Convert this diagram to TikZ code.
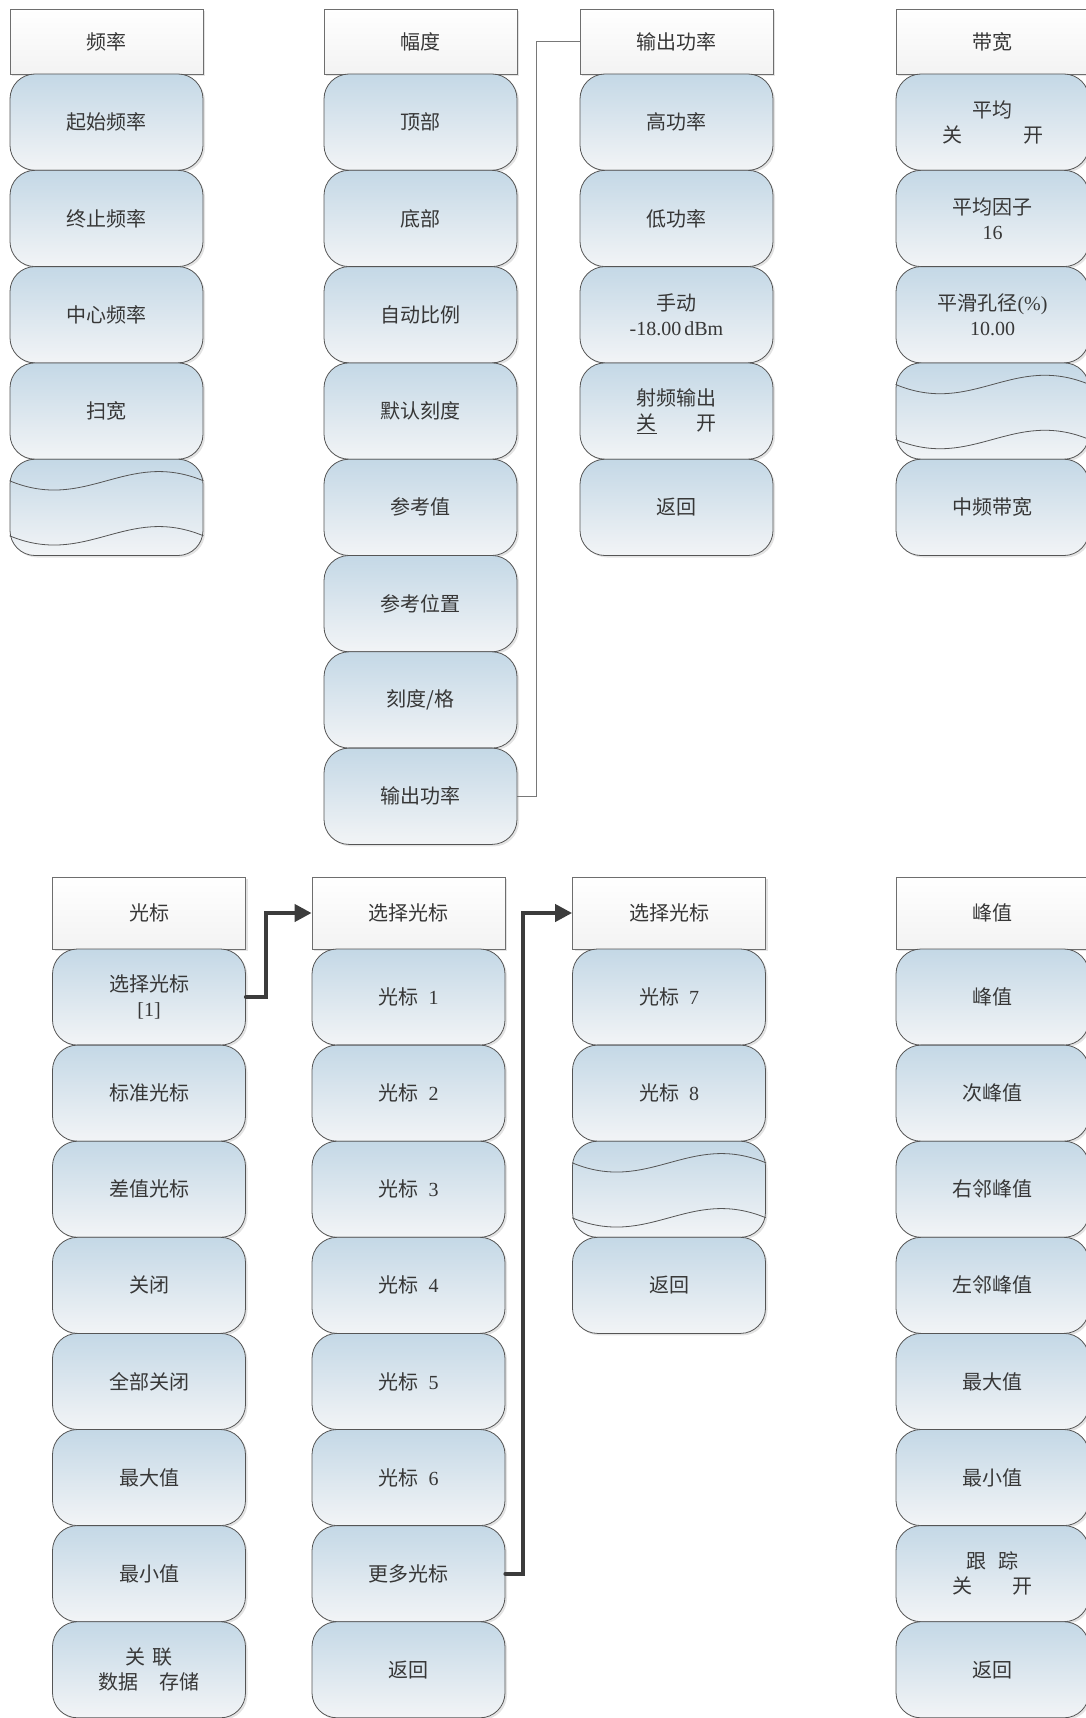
\documentclass[tikz,border=0pt]{standalone}
\usepackage{fontspec}
\setmainfont{Noto Sans CJK SC}
\newfontfamily\latfont{Liberation Serif}
\usetikzlibrary{arrows.meta,shadows}
\definecolor{btop}{RGB}{196,216,230}
\definecolor{bbot}{RGB}{242,244,246}
\definecolor{bedge}{RGB}{85,85,85}
\definecolor{hedge}{RGB}{110,110,110}
\definecolor{htop}{RGB}{255,255,255}
\definecolor{hbot}{RGB}{243,243,243}
\definecolor{txt}{RGB}{55,55,55}
\definecolor{arr}{RGB}{60,60,60}
\definecolor{thin}{RGB}{120,120,120}
\tikzset{
  btn/.style={rectangle, rounded corners=25pt, draw=bedge, line width=0.8pt,
    top color=btop, bottom color=bbot, minimum width=193pt, minimum height=96.3pt,
    align=center, text=txt, font=\fontsize{20}{25}\selectfont, inner sep=0pt,
    drop shadow={shadow xshift=2pt,shadow yshift=-2pt,opacity=0.22}},
  btnb/.style={btn, minimum height=96.1pt},
  hdr/.style={rectangle, draw=hedge, line width=0.8pt, top color=htop, bottom color=hbot,
    minimum width=193pt, minimum height=65pt, align=center, text=txt,
    font=\fontsize{20}{25}\selectfont, inner sep=0pt,
    drop shadow={shadow xshift=2pt,shadow yshift=-2pt,opacity=0.22}},
  hdrb/.style={hdr, minimum height=72pt},
  wave/.style={draw=bedge, line width=0.8pt},
  thickarrow/.style={draw=arr, line width=4pt, line cap=round, -{Triangle[length=17pt,width=17pt]}},
  thinline/.style={draw=thin, line width=0.8pt},
}
\newcommand\wavelines[1]{%
  \draw[wave] ([yshift=-22pt]#1.north west) .. controls +(77,32) and +(-77,-32) .. ([yshift=-22pt]#1.north east);
  \draw[wave] ([yshift=-77pt]#1.north west) .. controls +(77,32) and +(-77,-32) .. ([yshift=-77pt]#1.north east);}
\newcommand\gap[1]{\hspace*{#1pt}}
\newcommand\lt[1]{{\latfont #1}}
\begin{document}
\begin{tikzpicture}[x=1pt,y=-1pt]
\useasboundingbox (0,0) rectangle (1086,1718);
% ---------- Column 1: frequency
\node[hdr] (h1) at (106.5,41.5) {频率};
\node[btn] (a1) at (106.5,122.15) {起始频率};
\node[btn] (a2) at (106.5,218.45) {终止频率};
\node[btn] (a3) at (106.5,314.75) {中心频率};
\node[btn] (a4) at (106.5,411.05) {扫宽};
\node[btn] (a5) at (106.5,507.35) {};
\wavelines{a5}
% ---------- Column 2: amplitude
\node[hdr] (h2) at (420.5,41.5) {幅度};
\node[btn] (b1) at (420.5,122.15) {顶部};
\node[btn] (b2) at (420.5,218.45) {底部};
\node[btn] (b3) at (420.5,314.75) {自动比例};
\node[btn] (b4) at (420.5,411.05) {默认刻度};
\node[btn] (b5) at (420.5,507.35) {参考值};
\node[btn] (b6) at (420.5,603.65) {参考位置};
\node[btn] (b7) at (420.5,699.95) {刻度/格};
\node[btn] (b8) at (420.5,796.25) {输出功率};
% ---------- Column 3: output power
\node[hdr] (h3) at (676.5,41.5) {输出功率};
\node[btn] (c1) at (676.5,122.15) {高功率};
\node[btn] (c2) at (676.5,218.45) {低功率};
\node[btn] (c3) at (676.5,314.75) {手动\\\lt{-18.00\gap{3}dBm}};
\node[btn] (c4) at (676.5,411.05) {射频输出\\\underline{关}\gap{40}开};
\node[btn] (c5) at (676.5,507.35) {返回};
% ---------- Column 4: bandwidth
\node[hdr] (h4) at (992.5,41.5) {带宽};
\node[btn] (d1) at (992.5,122.15) {平均\\关\gap{61}开};
\node[btn] (d2) at (992.5,218.45) {平均因子\\\lt{16}};
\node[btn] (d3) at (992.5,314.75) {平滑孔径\lt{(\%)}\\\lt{10.00}};
\node[btn] (d4) at (992.5,411.05) {};
\wavelines{d4}
\node[btn] (d5) at (992.5,507.35) {中频带宽};
% thin connector
\draw[thinline] (b8.east) -- ++(19,0) |- (h3.west);
% ---------- Bottom column A: marker
\node[hdrb] (hA) at (149,913) {光标};
\node[btnb] (e1) at (149,997.05) {选择光标\\\lt{[1]}};
\node[btnb] (e2) at (149,1093.15) {标准光标};
\node[btnb] (e3) at (149,1189.25) {差值光标};
\node[btnb] (e4) at (149,1285.35) {关闭};
\node[btnb] (e5) at (149,1381.45) {全部关闭};
\node[btnb] (e6) at (149,1477.55) {最大值};
\node[btnb] (e7) at (149,1573.65) {最小值};
\node[btnb] (e8) at (149,1669.75) {关\gap{8}联\\数据\gap{21}存储};
% ---------- Bottom column B
\node[hdrb] (hB) at (408.5,913) {选择光标};
\node[btnb] (f1) at (408.5,997.05) {光标\gap{10}\lt{1}};
\node[btnb] (f2) at (408.5,1093.15) {光标\gap{10}\lt{2}};
\node[btnb] (f3) at (408.5,1189.25) {光标\gap{10}\lt{3}};
\node[btnb] (f4) at (408.5,1285.35) {光标\gap{10}\lt{4}};
\node[btnb] (f5) at (408.5,1381.45) {光标\gap{10}\lt{5}};
\node[btnb] (f6) at (408.5,1477.55) {光标\gap{10}\lt{6}};
\node[btnb] (f7) at (408.5,1573.65) {更多光标};
\node[btnb] (f8) at (408.5,1669.75) {返回};
% ---------- Bottom column C
\node[hdrb] (hC) at (669,913) {选择光标};
\node[btnb] (g1) at (669,997.05) {光标\gap{10}\lt{7}};
\node[btnb] (g2) at (669,1093.15) {光标\gap{10}\lt{8}};
\node[btnb] (g3) at (669,1189.25) {};
\wavelines{g3}
\node[btnb] (g4) at (669,1285.35) {返回};
% ---------- Bottom column D: peak
\node[hdrb] (hD) at (992.5,913) {峰值};
\node[btnb] (k1) at (992.5,997.05) {峰值};
\node[btnb] (k2) at (992.5,1093.15) {次峰值};
\node[btnb] (k3) at (992.5,1189.25) {右邻峰值};
\node[btnb] (k4) at (992.5,1285.35) {左邻峰值};
\node[btnb] (k5) at (992.5,1381.45) {最大值};
\node[btnb] (k6) at (992.5,1477.55) {最小值};
\node[btnb] (k7) at (992.5,1573.65) {跟\gap{12}踪\\关\gap{41}开};
\node[btnb] (k8) at (992.5,1669.75) {返回};
% ---------- thick arrows
\draw[thickarrow] (e1.east) -- ++(20,0) |- (hB.west);
\draw[thickarrow] (f7.east) -- ++(18,0) |- (hC.west);
\end{tikzpicture}
\end{document}
